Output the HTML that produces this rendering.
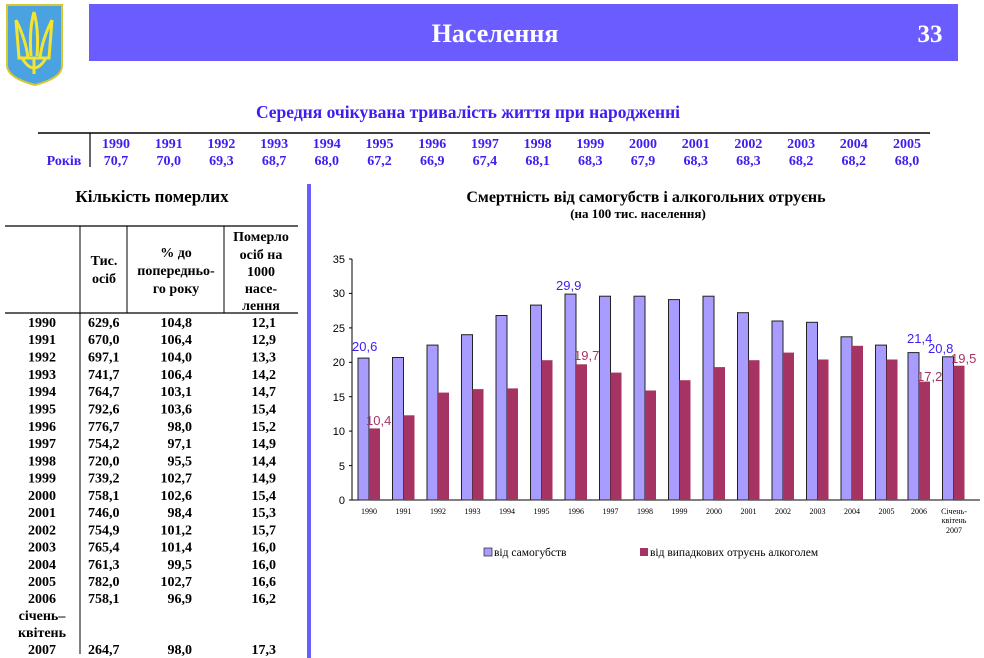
<!DOCTYPE html>
<html><head><meta charset="utf-8"><style>
html,body{margin:0;padding:0;background:#fff;}
svg{display:block;font-family:"Liberation Serif",serif;}
</style></head><body>
<svg width="984" height="658" viewBox="0 0 984 658" xmlns="http://www.w3.org/2000/svg">
<!-- emblem -->
<path d="M7,5 H62 V66 Q62,78 35,85 Q8,78 7,66 Z" fill="#4aa3e0" stroke="#d8c830" stroke-width="2"/>
<g fill="none" stroke="#f4e430" stroke-width="3">
<path d="M34,12 Q29,30 31,56 M34,12 Q39,30 37,56"/>
<path d="M16,20 L19,58 L49,58 L52,20"/>
<path d="M16,20 Q26,40 28,58 M52,20 Q42,40 40,58"/>
<path d="M22,58 Q34,78 46,58 M34,58 V74"/>
</g>
<!-- header -->
<rect x="89" y="4" width="869" height="57" fill="#6a5cff"/>
<text x="495" y="42" fill="#fff" font-size="26" font-weight="bold" text-anchor="middle">Населення</text>
<text x="930" y="42" fill="#fff" font-size="25" font-weight="bold" text-anchor="middle">33</text>
<!-- life expectancy -->
<text x="468" y="118" fill="#3c1ef0" font-size="17.5" font-weight="bold" text-anchor="middle">Середня очікувана тривалість життя при народженні</text>
<line x1="38" y1="133" x2="930" y2="133" stroke="#000" stroke-width="1.5"/>
<line x1="90" y1="133" x2="90" y2="167" stroke="#000" stroke-width="1.2"/>
<g fill="#3c1ef0" font-size="14" font-weight="bold" text-anchor="middle">
<text x="64" y="165">Років</text>
<text x="116" y="148">1990</text><text x="116" y="165">70,7</text>
<text x="168.7" y="148">1991</text><text x="168.7" y="165">70,0</text>
<text x="221.4" y="148">1992</text><text x="221.4" y="165">69,3</text>
<text x="274.1" y="148">1993</text><text x="274.1" y="165">68,7</text>
<text x="326.8" y="148">1994</text><text x="326.8" y="165">68,0</text>
<text x="379.5" y="148">1995</text><text x="379.5" y="165">67,2</text>
<text x="432.2" y="148">1996</text><text x="432.2" y="165">66,9</text>
<text x="484.9" y="148">1997</text><text x="484.9" y="165">67,4</text>
<text x="537.6" y="148">1998</text><text x="537.6" y="165">68,1</text>
<text x="590.3" y="148">1999</text><text x="590.3" y="165">68,3</text>
<text x="643" y="148">2000</text><text x="643" y="165">67,9</text>
<text x="695.7" y="148">2001</text><text x="695.7" y="165">68,3</text>
<text x="748.4" y="148">2002</text><text x="748.4" y="165">68,3</text>
<text x="801.1" y="148">2003</text><text x="801.1" y="165">68,2</text>
<text x="853.8" y="148">2004</text><text x="853.8" y="165">68,2</text>
<text x="907" y="148">2005</text><text x="907" y="165">68,0</text>
</g>
<!-- divider -->
<rect x="307" y="184" width="4" height="474" fill="#6a5cff"/>
<!-- left table -->
<text x="152" y="202" font-size="17" font-weight="bold" text-anchor="middle">Кількість померлих</text>
<line x1="5" y1="226" x2="298" y2="226" stroke="#000" stroke-width="1.2"/>
<line x1="5" y1="313" x2="298" y2="313" stroke="#000" stroke-width="1.2"/>
<line x1="80" y1="226" x2="80" y2="654" stroke="#000" stroke-width="1"/>
<line x1="127" y1="226" x2="127" y2="313" stroke="#000" stroke-width="1"/>
<line x1="224" y1="226" x2="224" y2="313" stroke="#000" stroke-width="1"/>
<g font-size="14" font-weight="bold" text-anchor="middle">
<text x="104" y="265">Тис.</text><text x="104" y="283">осіб</text>
<text x="176" y="257">% до</text><text x="176" y="275">попередньо-</text><text x="176" y="293">го року</text>
<text x="261" y="241">Померло</text><text x="261" y="259">осіб на</text><text x="261" y="276">1000</text><text x="261" y="293">насе-</text><text x="261" y="310">лення</text>
</g>
<g font-size="14" font-weight="bold">
<g text-anchor="middle">
<text x="42" y="327">1990</text><text x="42" y="344">1991</text><text x="42" y="361.5">1992</text><text x="42" y="379">1993</text><text x="42" y="396">1994</text><text x="42" y="413.5">1995</text><text x="42" y="431">1996</text><text x="42" y="448">1997</text><text x="42" y="465.5">1998</text><text x="42" y="482.5">1999</text><text x="42" y="500">2000</text><text x="42" y="517">2001</text><text x="42" y="534.5">2002</text><text x="42" y="551.5">2003</text><text x="42" y="569">2004</text><text x="42" y="586">2005</text><text x="42" y="603">2006</text><text x="42" y="620">січень–</text><text x="42" y="637">квітень</text><text x="42" y="654">2007</text>
</g>
<g>
<text x="88" y="327">629,6</text><text x="88" y="344">670,0</text><text x="88" y="361.5">697,1</text><text x="88" y="379">741,7</text><text x="88" y="396">764,7</text><text x="88" y="413.5">792,6</text><text x="88" y="431">776,7</text><text x="88" y="448">754,2</text><text x="88" y="465.5">720,0</text><text x="88" y="482.5">739,2</text><text x="88" y="500">758,1</text><text x="88" y="517">746,0</text><text x="88" y="534.5">754,9</text><text x="88" y="551.5">765,4</text><text x="88" y="569">761,3</text><text x="88" y="586">782,0</text><text x="88" y="603">758,1</text><text x="88" y="654">264,7</text>
</g>
<g text-anchor="end">
<text x="192" y="327">104,8</text><text x="192" y="344">106,4</text><text x="192" y="361.5">104,0</text><text x="192" y="379">106,4</text><text x="192" y="396">103,1</text><text x="192" y="413.5">103,6</text><text x="192" y="431">98,0</text><text x="192" y="448">97,1</text><text x="192" y="465.5">95,5</text><text x="192" y="482.5">102,7</text><text x="192" y="500">102,6</text><text x="192" y="517">98,4</text><text x="192" y="534.5">101,2</text><text x="192" y="551.5">101,4</text><text x="192" y="569">99,5</text><text x="192" y="586">102,7</text><text x="192" y="603">96,9</text><text x="192" y="654">98,0</text>
<text x="276" y="327">12,1</text><text x="276" y="344">12,9</text><text x="276" y="361.5">13,3</text><text x="276" y="379">14,2</text><text x="276" y="396">14,7</text><text x="276" y="413.5">15,4</text><text x="276" y="431">15,2</text><text x="276" y="448">14,9</text><text x="276" y="465.5">14,4</text><text x="276" y="482.5">14,9</text><text x="276" y="500">15,4</text><text x="276" y="517">15,3</text><text x="276" y="534.5">15,7</text><text x="276" y="551.5">16,0</text><text x="276" y="569">16,0</text><text x="276" y="586">16,6</text><text x="276" y="603">16,2</text><text x="276" y="654">17,3</text>
</g>
</g>
<!-- chart titles -->
<text x="646" y="202" font-size="16" font-weight="bold" text-anchor="middle">Смертність від самогубств і алкогольних отруєнь</text>
<text x="638" y="218" font-size="13" font-weight="bold" text-anchor="middle">(на 100 тис. населення)</text>
<!-- axes -->
<g font-family="Liberation Sans, sans-serif" font-size="11" text-anchor="end">
<text x="345" y="504">0</text><text x="345" y="470">5</text><text x="345" y="435">10</text><text x="345" y="401">15</text><text x="345" y="366">20</text><text x="345" y="332">25</text><text x="345" y="297">30</text><text x="345" y="263">35</text>
</g>
<line x1="352" y1="259" x2="352" y2="500" stroke="#000"/>
<line x1="349" y1="500" x2="980" y2="500" stroke="#000"/>
<g stroke="#000">
<line x1="349" y1="259" x2="352" y2="259"/><line x1="349" y1="293.4" x2="352" y2="293.4"/><line x1="349" y1="327.9" x2="352" y2="327.9"/><line x1="349" y1="362.3" x2="352" y2="362.3"/><line x1="349" y1="396.7" x2="352" y2="396.7"/><line x1="349" y1="431.1" x2="352" y2="431.1"/><line x1="349" y1="465.6" x2="352" y2="465.6"/>
</g>
<!-- bars -->
<g fill="#a99cff" stroke="#222" stroke-width="1">
<rect x="358" y="358.1" width="11" height="141.9"/>
<rect x="392.5" y="357.5" width="11" height="142.5"/>
<rect x="427" y="345.1" width="11" height="154.9"/>
<rect x="461.5" y="334.7" width="11" height="165.3"/>
<rect x="496" y="315.5" width="11" height="184.5"/>
<rect x="530.5" y="305.1" width="11" height="194.9"/>
<rect x="565" y="294.1" width="11" height="205.9"/>
<rect x="599.5" y="296.2" width="11" height="203.8"/>
<rect x="634" y="296.2" width="11" height="203.8"/>
<rect x="668.5" y="299.6" width="11" height="200.4"/>
<rect x="703" y="296.2" width="11" height="203.8"/>
<rect x="737.5" y="312.7" width="11" height="187.3"/>
<rect x="772" y="321" width="11" height="179"/>
<rect x="806.5" y="322.3" width="11" height="177.7"/>
<rect x="841" y="336.8" width="11" height="163.2"/>
<rect x="875.5" y="345.1" width="11" height="154.9"/>
<rect x="908" y="352.6" width="11" height="147.4"/>
<rect x="942.5" y="356.8" width="11" height="143.2"/>
</g>
<g fill="#a63463">
<rect x="369" y="428.4" width="11" height="71.6"/>
<rect x="403.5" y="415.3" width="11" height="84.7"/>
<rect x="438" y="392.6" width="11" height="107.4"/>
<rect x="472.5" y="389.1" width="11" height="110.9"/>
<rect x="507" y="388.4" width="11" height="111.6"/>
<rect x="541.5" y="360.2" width="11" height="139.8"/>
<rect x="576" y="364.3" width="11" height="135.7"/>
<rect x="610.5" y="372.6" width="11" height="127.4"/>
<rect x="645" y="390.5" width="11" height="109.5"/>
<rect x="679.5" y="380.2" width="11" height="119.8"/>
<rect x="714" y="367.1" width="11" height="132.9"/>
<rect x="748.5" y="360.2" width="11" height="139.8"/>
<rect x="783" y="352.6" width="11" height="147.4"/>
<rect x="817.5" y="359.5" width="11" height="140.5"/>
<rect x="852" y="345.8" width="11" height="154.2"/>
<rect x="886.5" y="359.5" width="11" height="140.5"/>
<rect x="919" y="381.6" width="11" height="118.4"/>
<rect x="953.5" y="365.7" width="11" height="134.3"/>
</g>
<!-- data labels -->
<g font-family="Liberation Sans, sans-serif" font-size="13">
<text x="352" y="351" fill="#3c1ef0">20,6</text>
<text x="366" y="425" fill="#a63463">10,4</text>
<text x="556" y="290" fill="#3c1ef0">29,9</text>
<text x="574" y="360" fill="#a63463">19,7</text>
<text x="907" y="343" fill="#3c1ef0">21,4</text>
<text x="928" y="353" fill="#3c1ef0">20,8</text>
<text x="917" y="381" fill="#a63463">17,2</text>
<text x="951" y="363" fill="#a63463">19,5</text>
</g>
<!-- x labels -->
<g font-size="8" text-anchor="middle">
<text x="369" y="514">1990</text><text x="403.5" y="514">1991</text><text x="438" y="514">1992</text><text x="472.5" y="514">1993</text><text x="507" y="514">1994</text><text x="541.5" y="514">1995</text><text x="576" y="514">1996</text><text x="610.5" y="514">1997</text><text x="645" y="514">1998</text><text x="679.5" y="514">1999</text><text x="714" y="514">2000</text><text x="748.5" y="514">2001</text><text x="783" y="514">2002</text><text x="817.5" y="514">2003</text><text x="852" y="514">2004</text><text x="886.5" y="514">2005</text><text x="919" y="514">2006</text><text x="954" y="514">Січень-</text><text x="954" y="523">квітень</text><text x="954" y="533">2007</text>
</g>
<!-- legend -->
<rect x="484" y="548" width="8" height="8" fill="#a99cff" stroke="#222" stroke-width="0.7"/>
<text x="494" y="556" font-size="11.5">від самогубств</text>
<rect x="640" y="548" width="8" height="8" fill="#a63463"/>
<text x="650" y="556" font-size="11.5">від випадкових отруєнь алкоголем</text>
</svg>
</body></html>
